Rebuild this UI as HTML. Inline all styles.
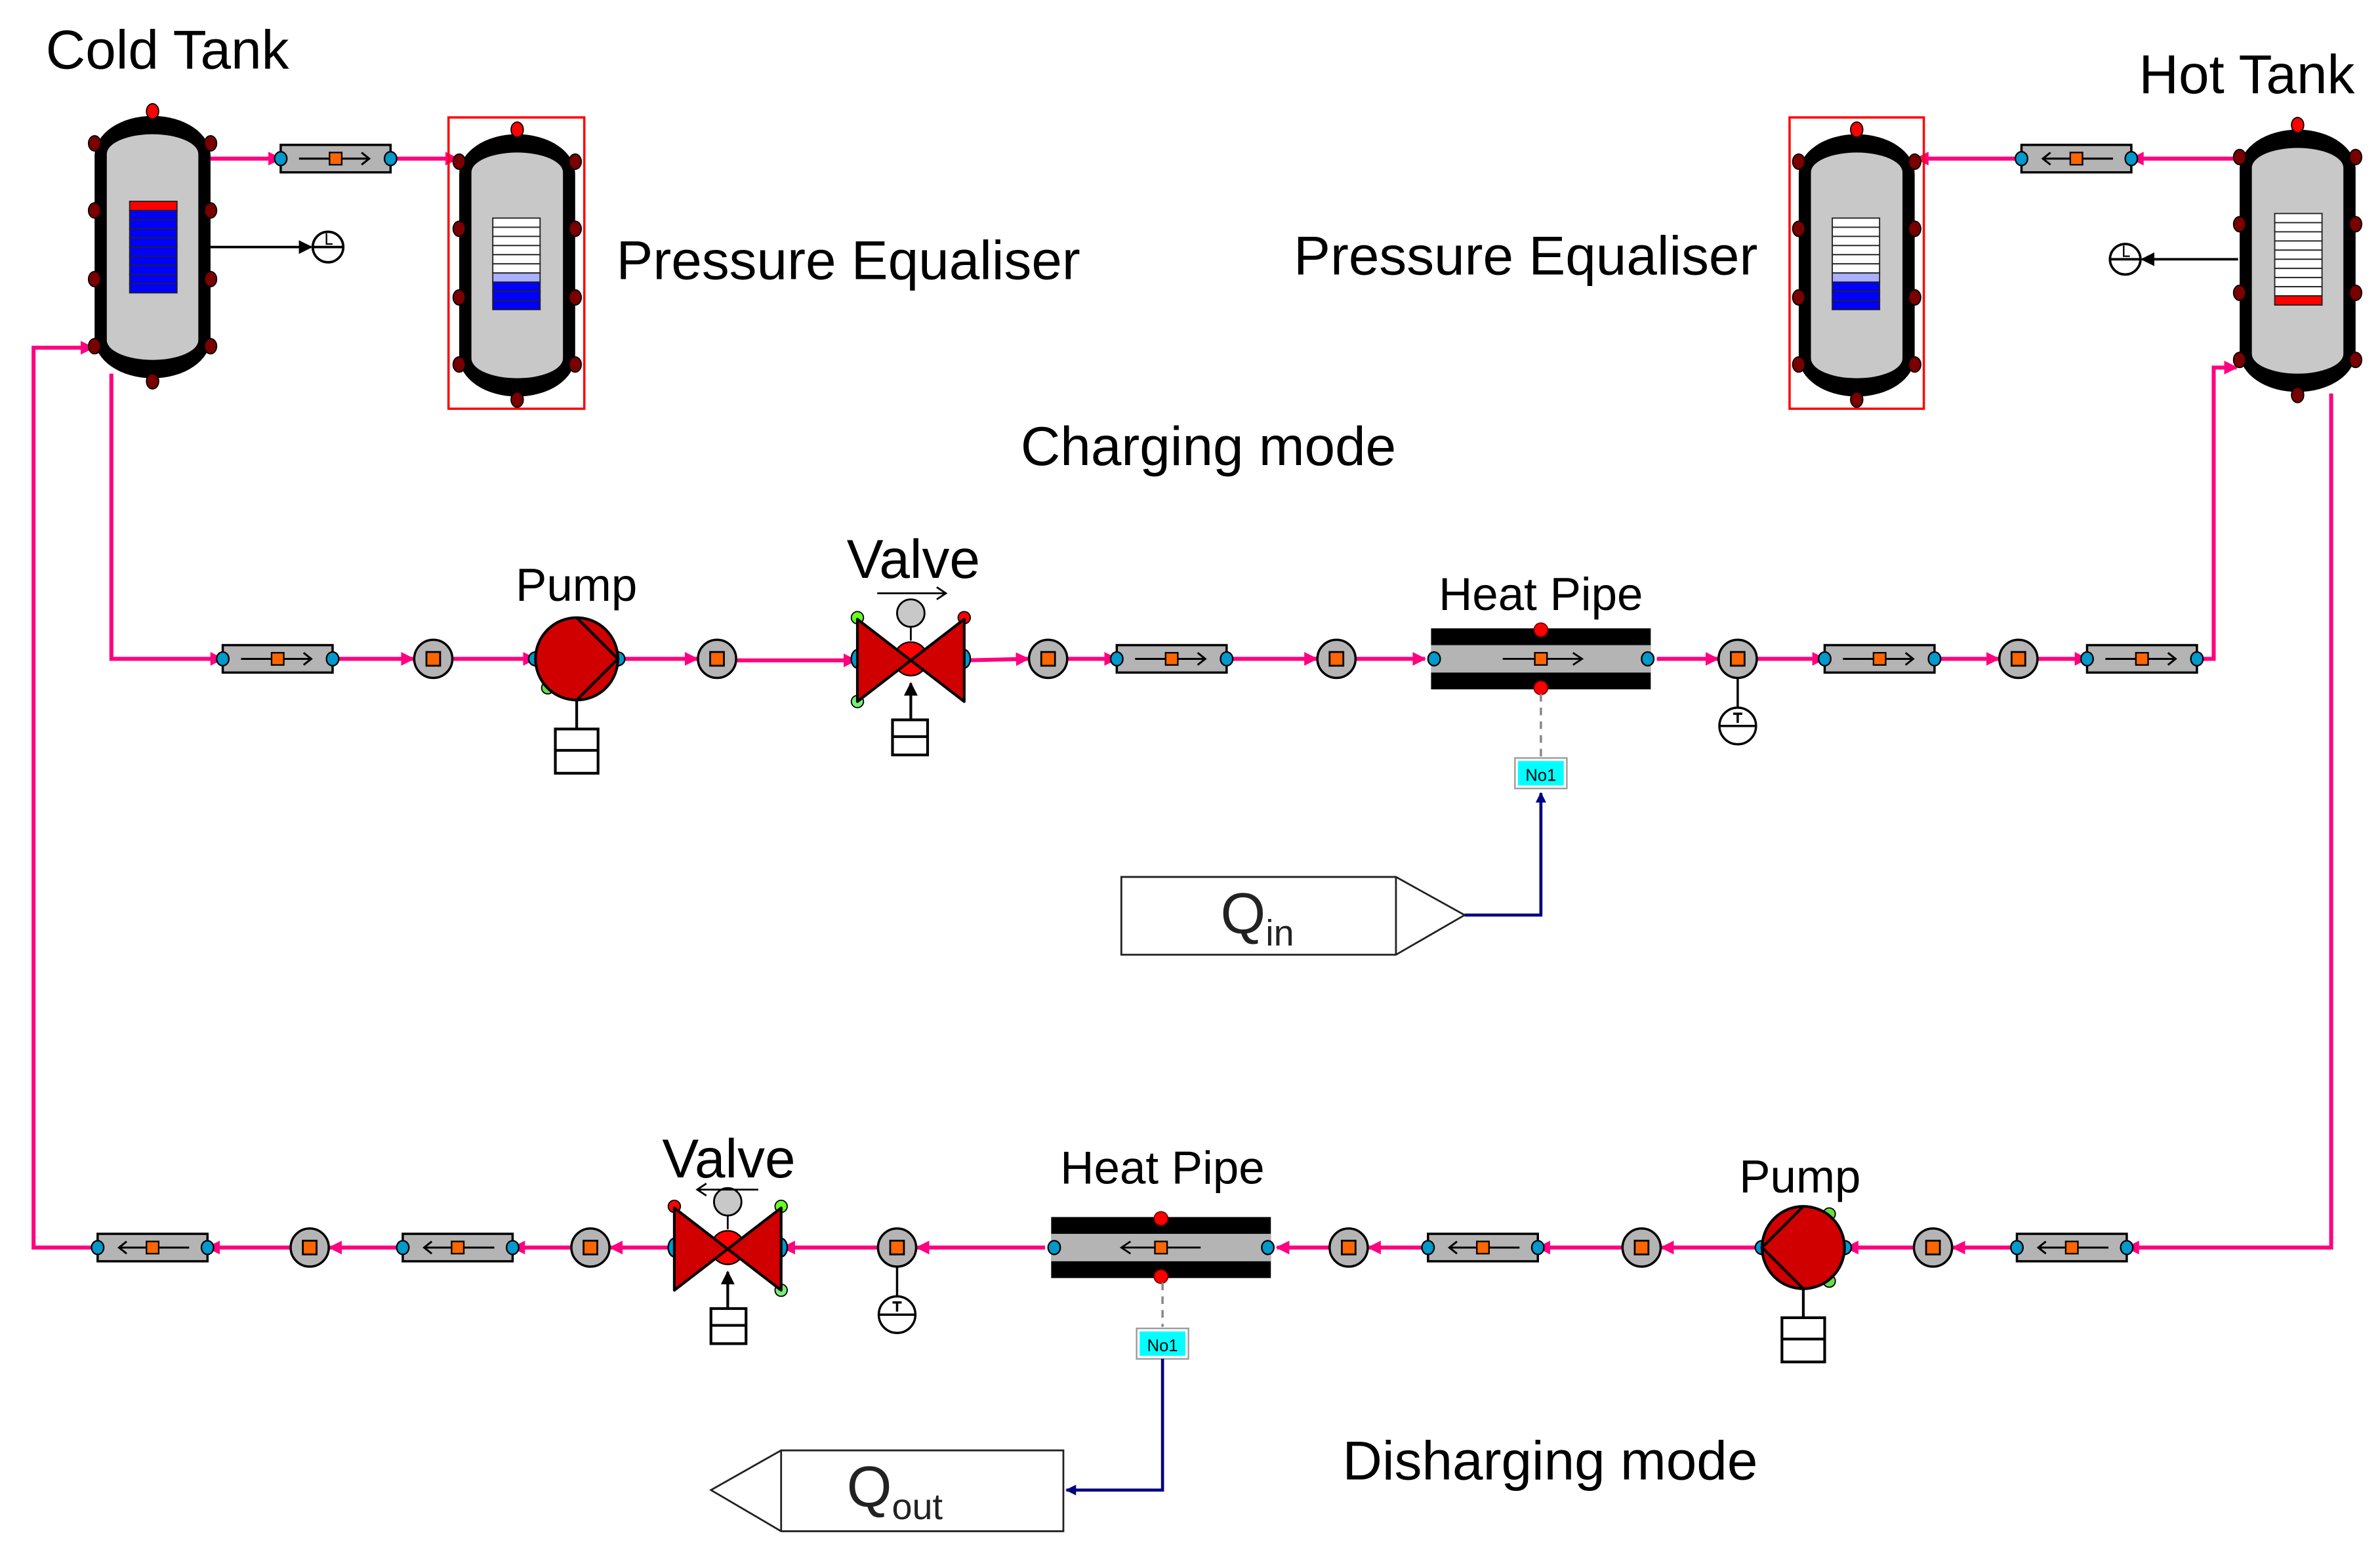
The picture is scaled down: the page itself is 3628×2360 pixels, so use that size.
<!DOCTYPE html>
<html><head><meta charset="utf-8"><style>html,body{margin:0;padding:0;background:#fff}svg{display:block}</style></head>
<body>
<svg width="3628" height="2360" viewBox="0 0 1560 1015" preserveAspectRatio="none" xmlns="http://www.w3.org/2000/svg" font-family="Liberation Sans, Arial, sans-serif">
<defs>
<marker id="pk" viewBox="0 0 10 10" refX="9" refY="5" markerWidth="9" markerHeight="9" markerUnits="userSpaceOnUse" orient="auto"><path d="M0,0 L10,5 L0,10 z" fill="#ff0080"/></marker>
<marker id="bk" viewBox="0 0 10 10" refX="9" refY="5" markerWidth="9" markerHeight="9" markerUnits="userSpaceOnUse" orient="auto"><path d="M0,0 L10,5 L0,10 z" fill="#000"/></marker>
<marker id="nv" viewBox="0 0 10 10" refX="9" refY="5" markerWidth="7" markerHeight="7" markerUnits="userSpaceOnUse" orient="auto"><path d="M0,0 L10,5 L0,10 z" fill="#000080"/></marker>
<g id="pipeR">
<rect x="-36" y="-9" width="72" height="18" fill="#b4b4b4" stroke="#000" stroke-width="1.5"/>
<line x1="-24" y1="0" x2="22" y2="0" stroke="#000" stroke-width="1.3"/>
<path d="M17,-4 L22,0 L17,4" fill="none" stroke="#000" stroke-width="1.3"/>
<rect x="-4" y="-4" width="8" height="8" fill="#ff6600" stroke="#000" stroke-width="1"/>
<ellipse cx="-36" cy="0" rx="4" ry="4.5" fill="#0099cc" stroke="#000" stroke-width="1"/>
<ellipse cx="36" cy="0" rx="4" ry="4.5" fill="#0099cc" stroke="#000" stroke-width="1"/>
</g>
<g id="sens">
<circle r="12.5" fill="#b4b4b4" stroke="#000" stroke-width="1.5"/>
<rect x="-4.5" y="-4.5" width="9" height="9" fill="#ff6600" stroke="#000" stroke-width="1.2"/>
</g>
<g id="tank">
<rect x="-38" y="-86" width="76" height="172" rx="38" ry="26" fill="#000"/>
<rect x="-30" y="-74" width="60" height="148" rx="30" ry="13" fill="#c8c8c8"/>
<g fill="#7a0000" stroke="#000" stroke-width="0.8">
<ellipse cx="-38" cy="-68" rx="4" ry="5"/><ellipse cx="38" cy="-68" rx="4" ry="5"/>
<ellipse cx="-38" cy="-24" rx="4" ry="5"/><ellipse cx="38" cy="-24" rx="4" ry="5"/>
<ellipse cx="-38" cy="21" rx="4" ry="5"/><ellipse cx="38" cy="21" rx="4" ry="5"/>
<ellipse cx="-38" cy="65" rx="4" ry="5"/><ellipse cx="38" cy="65" rx="4" ry="5"/>
<ellipse cx="0" cy="88" rx="4" ry="5"/>
</g>
<ellipse cx="0" cy="-89" rx="4" ry="5" fill="#ff0000" stroke="#000" stroke-width="0.8"/>
</g>
<g id="heatpipe">
<rect x="-72" y="-20" width="144" height="40" fill="#000"/>
<rect x="-72" y="-9" width="144" height="18" fill="#b4b4b4"/>
<circle cx="0" cy="-19" r="4.5" fill="#ff0000" stroke="#700" stroke-width="0.8"/>
<circle cx="0" cy="19" r="4.5" fill="#ff0000" stroke="#700" stroke-width="0.8"/>
<ellipse cx="-70" cy="0" rx="4" ry="4.5" fill="#0099cc" stroke="#000"/>
<ellipse cx="70" cy="0" rx="4" ry="4.5" fill="#0099cc" stroke="#000"/>
</g>
<g id="pumpBody">
<circle cx="-27" cy="0" r="4.5" fill="#0099cc" stroke="#000"/>
<circle cx="27" cy="0" r="4.5" fill="#0099cc" stroke="#000"/>
<circle r="27" fill="#d00000" stroke="#000" stroke-width="1.8"/>
</g>
<g id="pumpBox">
<line x1="0" y1="27" x2="0" y2="46" stroke="#000" stroke-width="1.8"/>
<rect x="-14" y="46" width="28" height="29" fill="#fff" stroke="#000" stroke-width="1.8"/>
<line x1="-14" y1="60" x2="14" y2="60" stroke="#000" stroke-width="1.8"/>
</g>
<g id="valve">
<ellipse cx="-35" cy="0" rx="4" ry="6" fill="#0099cc" stroke="#000"/>
<ellipse cx="35" cy="0" rx="4" ry="6" fill="#0099cc" stroke="#000"/>
<circle cx="-35" cy="-27" r="4" fill="#66ff22" stroke="#000" stroke-width="0.8"/>
<circle cx="-35" cy="28" r="4" fill="#77ee77" stroke="#000" stroke-width="0.8"/>
<circle cx="35" cy="-27" r="4" fill="#ff0000" stroke="#000" stroke-width="0.8"/>
<line x1="0" y1="-12" x2="0" y2="-24" stroke="#000" stroke-width="1.2"/>
<ellipse cx="0" cy="-30" rx="9" ry="9" fill="#c8c8c8" stroke="#000" stroke-width="1.2"/>
<circle cx="0" cy="0" r="11" fill="#ff0000" stroke="#000" stroke-width="1"/>
<path d="M-35,-26 L35,28 L35,-26 L-35,28 Z" fill="#d00000" stroke="#000" stroke-width="1.8" stroke-linejoin="round"/>
<line x1="0" y1="40" x2="0" y2="16" stroke="#000" stroke-width="1.8" marker-end="url(#bk)"/>
<rect x="-12" y="40" width="23" height="23" fill="#fff" stroke="#000" stroke-width="1.8"/>
<line x1="-12" y1="51" x2="11" y2="51" stroke="#000" stroke-width="1.8"/>
</g>
<g id="gauge">
<line x1="0" y1="12" x2="0" y2="32" stroke="#000" stroke-width="1.5"/>
<circle cx="0" cy="44" r="12" fill="#fff" stroke="#000" stroke-width="1.5"/>
<line x1="-12" y1="44" x2="12" y2="44" stroke="#000" stroke-width="1.5"/>
<path d="M-3,36 L3,36 M0,36 L0,42" stroke="#000" stroke-width="1.5"/>
</g>
</defs>

<!-- texts -->
<g font-size="36" fill="#000">
<text x="30" y="45">Cold Tank</text>
<text x="1402" y="61">Hot Tank</text>
<text x="404" y="183">Pressure Equaliser</text>
<text x="848" y="180">Pressure Equaliser</text>
<text x="669" y="305">Charging mode</text>
<text x="880" y="970">Disharging mode</text>
</g>
<g font-size="30.5">
<text x="338" y="394">Pump</text>
<text x="943" y="400">Heat Pipe</text>
<text x="695" y="776">Heat Pipe</text>
<text x="1140" y="782">Pump</text>
</g>
<g font-size="36">
<text x="555" y="379">Valve</text>
<text x="434" y="772">Valve</text>
</g>

<!-- pink lines -->
<g stroke="#ff0080" stroke-width="2.6" fill="none">
<polyline points="73,245 73,432 146,432" marker-end="url(#pk)"/>
<line x1="218" y1="432" x2="271" y2="432" marker-end="url(#pk)"/>
<line x1="297" y1="432" x2="351" y2="432" marker-end="url(#pk)"/>
<line x1="405" y1="432" x2="457" y2="432" marker-end="url(#pk)"/>
<line x1="483" y1="433" x2="561" y2="433" marker-end="url(#pk)"/>
<line x1="633" y1="433" x2="674" y2="432" marker-end="url(#pk)"/>
<line x1="700" y1="432" x2="732" y2="432" marker-end="url(#pk)"/>
<line x1="804" y1="432" x2="863" y2="432" marker-end="url(#pk)"/>
<line x1="889" y1="432" x2="934" y2="432" marker-end="url(#pk)"/>
<line x1="1086" y1="432" x2="1126" y2="432" marker-end="url(#pk)"/>
<line x1="1152" y1="432" x2="1196" y2="432" marker-end="url(#pk)"/>
<line x1="1268" y1="432" x2="1310" y2="432" marker-end="url(#pk)"/>
<line x1="1336" y1="432" x2="1368" y2="432" marker-end="url(#pk)"/>
<polyline points="1440,432 1451,432 1451,241 1466,241" marker-end="url(#pk)"/>
<line x1="138" y1="104" x2="184" y2="104" marker-end="url(#pk)"/>
<line x1="256" y1="104" x2="300" y2="104" marker-end="url(#pk)"/>
<line x1="1467" y1="104" x2="1397" y2="104" marker-end="url(#pk)"/>
<line x1="1325" y1="104" x2="1256" y2="104" marker-end="url(#pk)"/>
<polyline points="1528,258 1528,818 1394,818" marker-end="url(#pk)"/>
<line x1="1322" y1="818" x2="1280" y2="818" marker-end="url(#pk)"/>
<line x1="1254" y1="818" x2="1210" y2="818" marker-end="url(#pk)"/>
<line x1="1155" y1="818" x2="1089" y2="818" marker-end="url(#pk)"/>
<line x1="1063" y1="818" x2="1008" y2="818" marker-end="url(#pk)"/>
<line x1="936" y1="818" x2="897" y2="818" marker-end="url(#pk)"/>
<line x1="871" y1="818" x2="837" y2="818" marker-end="url(#pk)"/>
<line x1="685" y1="818" x2="601" y2="818" marker-end="url(#pk)"/>
<line x1="575" y1="818" x2="513" y2="818" marker-end="url(#pk)"/>
<line x1="441" y1="818" x2="400" y2="818" marker-end="url(#pk)"/>
<line x1="374" y1="818" x2="336" y2="818" marker-end="url(#pk)"/>
<line x1="264" y1="818" x2="216" y2="818" marker-end="url(#pk)"/>
<line x1="190" y1="818" x2="136" y2="818" marker-end="url(#pk)"/>
<polyline points="64,818 22,818 22,228 61,228" marker-end="url(#pk)"/>
</g>

<!-- tanks -->
<use href="#tank" transform="translate(100,162)"/>
<rect x="294" y="77" width="89" height="191" fill="none" stroke="#ff0000" stroke-width="1.5"/>
<use href="#tank" transform="translate(339,174)"/>
<rect x="1173" y="77" width="88" height="191" fill="none" stroke="#ff0000" stroke-width="1.5"/>
<use href="#tank" transform="translate(1217,174)"/>
<use href="#tank" transform="translate(1506,171)"/>

<g stroke="#222" stroke-width="0.8">
<rect x="85" y="132" width="31" height="6" fill="#ff0000"/>
<rect x="85" y="138" width="31" height="6" fill="#0000ff"/><rect x="85" y="144" width="31" height="6" fill="#0000ff"/>
<rect x="85" y="150" width="31" height="6" fill="#0000ff"/><rect x="85" y="156" width="31" height="6" fill="#0000ff"/>
<rect x="85" y="162" width="31" height="6" fill="#0000ff"/><rect x="85" y="168" width="31" height="6" fill="#0000ff"/>
<rect x="85" y="174" width="31" height="6" fill="#0000ff"/><rect x="85" y="180" width="31" height="6" fill="#0000ff"/>
<rect x="85" y="186" width="31" height="6" fill="#0000ff"/>
</g>
<g id="pebar" stroke="#222" stroke-width="0.8">
<rect x="323" y="143" width="31" height="6" fill="#fff"/><rect x="323" y="149" width="31" height="6" fill="#fff"/>
<rect x="323" y="155" width="31" height="6" fill="#fff"/><rect x="323" y="161" width="31" height="6" fill="#fff"/>
<rect x="323" y="167" width="31" height="6" fill="#fff"/><rect x="323" y="173" width="31" height="6" fill="#fff"/>
<rect x="323" y="179" width="31" height="6" fill="#aab0ff"/>
<rect x="323" y="185" width="31" height="6" fill="#0000ff"/><rect x="323" y="191" width="31" height="6" fill="#0000ff"/>
<rect x="323" y="197" width="31" height="6" fill="#0000ff"/>
</g>
<use href="#pebar" transform="translate(878,0)"/>
<g stroke="#222" stroke-width="0.8">
<rect x="1491" y="140" width="31" height="6" fill="#fff"/><rect x="1491" y="146" width="31" height="6" fill="#fff"/>
<rect x="1491" y="152" width="31" height="6" fill="#fff"/><rect x="1491" y="158" width="31" height="6" fill="#fff"/>
<rect x="1491" y="164" width="31" height="6" fill="#fff"/><rect x="1491" y="170" width="31" height="6" fill="#fff"/>
<rect x="1491" y="176" width="31" height="6" fill="#fff"/><rect x="1491" y="182" width="31" height="6" fill="#fff"/>
<rect x="1491" y="188" width="31" height="6" fill="#fff"/>
<rect x="1491" y="194" width="31" height="6" fill="#ff0000"/>
</g>

<line x1="138" y1="162" x2="204" y2="162" stroke="#000" stroke-width="1.6" marker-end="url(#bk)"/>
<circle cx="215" cy="162" r="10" fill="#fff" stroke="#000" stroke-width="1.6"/>
<line x1="205" y1="162" x2="225" y2="162" stroke="#000" stroke-width="1.6"/>
<path d="M214,153 L214,160 L218,160" fill="none" stroke="#000" stroke-width="1"/>
<line x1="1467" y1="170" x2="1404" y2="170" stroke="#000" stroke-width="1.6" marker-end="url(#bk)"/>
<circle cx="1393" cy="170" r="10" fill="#fff" stroke="#000" stroke-width="1.6"/>
<line x1="1383" y1="170" x2="1403" y2="170" stroke="#000" stroke-width="1.6"/>
<path d="M1392,161 L1392,168 L1396,168" fill="none" stroke="#000" stroke-width="1"/>

<use href="#pipeR" transform="translate(220,104)"/>
<use href="#pipeR" transform="translate(1361,104) scale(-1,1)"/>

<!-- charging -->
<use href="#pipeR" transform="translate(182,432)"/>
<use href="#sens" transform="translate(284,432)"/>
<g transform="translate(378,432)">
<circle cx="-19" cy="19" r="4" fill="#66dd44" stroke="#000" stroke-width="0.8"/>
<use href="#pumpBody"/>
<path d="M0,-27 L27,0 L0,27" fill="none" stroke="#000" stroke-width="1.8"/>
<use href="#pumpBox"/>
</g>
<use href="#sens" transform="translate(470,432)"/>
<use href="#valve" transform="translate(597,432)"/>
<line x1="575" y1="389" x2="619" y2="389" stroke="#000" stroke-width="1.2"/>
<path d="M614,385 L620,389 L614,393" fill="none" stroke="#000" stroke-width="1.2"/>
<use href="#sens" transform="translate(687,432)"/>
<use href="#pipeR" transform="translate(768,432)"/>
<use href="#sens" transform="translate(876,432)"/>
<use href="#heatpipe" transform="translate(1010,432)"/>
<line x1="985" y1="432" x2="1036" y2="432" stroke="#000" stroke-width="1.2"/>
<path d="M1031,428 L1037,432 L1031,436" fill="none" stroke="#000" stroke-width="1.2"/>
<rect x="1006" y="428" width="8" height="8" fill="#ff6600" stroke="#000"/>
<use href="#sens" transform="translate(1139,432)"/>
<use href="#gauge" transform="translate(1139,432)"/>
<use href="#pipeR" transform="translate(1232,432)"/>
<use href="#sens" transform="translate(1323,432)"/>
<use href="#pipeR" transform="translate(1404,432)"/>

<line x1="1010" y1="455" x2="1010" y2="496" stroke="#888" stroke-width="1.5" stroke-dasharray="5,4"/>
<rect x="993" y="497" width="34" height="20" fill="#fff" stroke="#999"/>
<rect x="995" y="499" width="30" height="16" fill="#00ffff"/>
<text x="1010" y="512" font-size="11" text-anchor="middle">No1</text>
<polyline points="960,600 1010,600 1010,520" fill="none" stroke="#000080" stroke-width="2" marker-end="url(#nv)"/>
<path d="M735,575 L915,575 L960,600 L915,626 L735,626 Z M915,575 L915,626" fill="#fff" stroke="#222" stroke-width="1.2"/>
<text x="800" y="612" font-size="38" fill="#222">Q<tspan font-size="24" dy="8">in</tspan></text>

<!-- discharging -->
<use href="#pipeR" transform="translate(1358,818) scale(-1,1)"/>
<use href="#sens" transform="translate(1267,818)"/>
<g transform="translate(1182,818)">
<circle cx="17" cy="-22" r="4" fill="#66dd44" stroke="#000" stroke-width="0.8"/>
<circle cx="17" cy="22" r="4" fill="#66dd44" stroke="#000" stroke-width="0.8"/>
<use href="#pumpBody"/>
<path d="M0,-27 L-27,0 L0,27" fill="none" stroke="#000" stroke-width="1.8"/>
<use href="#pumpBox"/>
</g>
<use href="#sens" transform="translate(1076,818)"/>
<use href="#pipeR" transform="translate(972,818) scale(-1,1)"/>
<use href="#sens" transform="translate(884,818)"/>
<use href="#heatpipe" transform="translate(761,818)"/>
<line x1="736" y1="818" x2="787" y2="818" stroke="#000" stroke-width="1.2"/>
<path d="M741,814 L735,818 L741,822" fill="none" stroke="#000" stroke-width="1.2"/>
<rect x="757" y="814" width="8" height="8" fill="#ff6600" stroke="#000"/>
<use href="#sens" transform="translate(588,818)"/>
<use href="#gauge" transform="translate(588,818)"/>
<use href="#valve" transform="translate(477,818) scale(-1,1)"/>
<line x1="457" y1="780" x2="497" y2="780" stroke="#000" stroke-width="1.2"/>
<path d="M463,776 L457,780 L463,784" fill="none" stroke="#000" stroke-width="1.2"/>
<use href="#sens" transform="translate(387,818)"/>
<use href="#pipeR" transform="translate(300,818) scale(-1,1)"/>
<use href="#sens" transform="translate(203,818)"/>
<use href="#pipeR" transform="translate(100,818) scale(-1,1)"/>

<line x1="762" y1="841" x2="762" y2="870" stroke="#888" stroke-width="1.5" stroke-dasharray="5,4"/>
<rect x="745" y="871" width="34" height="20" fill="#fff" stroke="#999"/>
<rect x="747" y="873" width="30" height="16" fill="#00ffff"/>
<text x="762" y="886" font-size="11" text-anchor="middle">No1</text>
<polyline points="762,891 762,977 699,977" fill="none" stroke="#000080" stroke-width="2" marker-end="url(#nv)"/>
<path d="M697,951 L512,951 L466,977 L512,1004 L697,1004 Z M512,951 L512,1004" fill="#fff" stroke="#222" stroke-width="1.2"/>
<text x="555" y="988" font-size="38" fill="#222">Q<tspan font-size="24" dy="8">out</tspan></text>
</svg>
</body></html>
